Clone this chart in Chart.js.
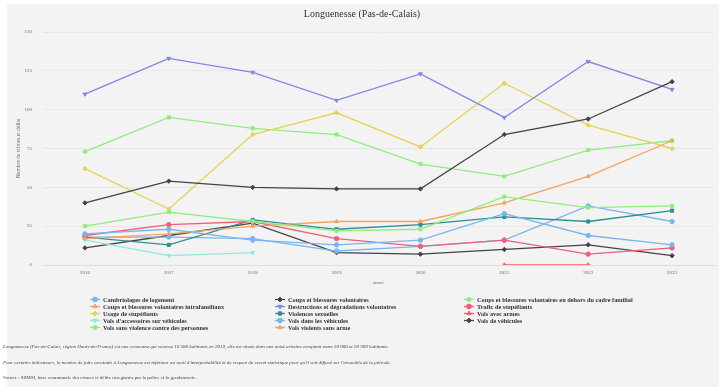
<!DOCTYPE html>
<html>
<head>
<meta charset="utf-8">
<script src="https://cdn.jsdelivr.net/npm/chart.js@4.4.0/dist/chart.umd.min.js"></script>
<style>
html, body { margin: 0; padding: 0; background: #fff; }
#page { position: relative; width: 719px; height: 387px; overflow: hidden; font-family: "Liberation Serif", "Times New Roman", serif; }
#box { position: absolute; left: 7px; top: 4px; right: 0; bottom: 0; background: #f3f3f3; }
#chart { position: absolute; left: 0; top: 0; }
.item { position: absolute; font-weight: bold; font-size: 6.3px; line-height: 7px; color: #333; white-space: nowrap; }
.item canvas { position: absolute; }
.note { position: absolute; left: 3px; font-size: 5px; line-height: 6px; color: #444; white-space: nowrap; }
.note.it { font-style: italic; }
</style>
</head>
<body>
<div id="page">
  <div id="box"></div>
  <canvas id="chart" width="719" height="387"></canvas>
  <div id="legend"></div>
  <div class="note it" style="top:344px">Longuenesse (Pas-de-Calais, région Hauts-de-France) est une commune qui recense 10 588 habitants en 2019, elle est située dans une unité urbaine comptant entre 50 000 et 99 999 habitants.</div>
  <div class="note it" style="top:360px">Pour certains indicateurs, le nombre de faits constatés à Longuenesse est inférieur au seuil d'interprétabilité et de respect du secret statistique pour qu'il soit diffusé sur l'ensemble de la période.</div>
  <div class="note" style="top:375px">Source : SSMSI, base communale des crimes et délits enregistrés par la police et la gendarmerie.</div>
</div>
<script>
// valeurs
const years = ['2016', '2017', '2018', '2019', '2020', '2021', '2022', '2023'];
const yTicks = [0, 25, 50, 75, 100, 125, 150];

const cambriolages = [20, 23, 16, 13, 16, 33, 19, 13];
const coupsBlessures = [40, 54, 50, 49, 49, 84, 94, 118];
const coupsHorsFamille = [25, 34, 28, 22, 23, 44, 37, 38];
const coupsIntrafamiliaux = [17, 20, 25, 28, 28, 40, 57, 80];
const destructions = [110, 133, 124, 106, 123, 95, 131, 113];
const trafic = [19, 26, 28, 17, 12, 16, 7, 11];
const usage = [62, 36, 84, 98, 76, 117, 90, 75];
const violencesSexuelles = [18, 13, 29, 23, 26, 31, 28, 35];
const volsArmes = [null, null, null, null, null, 0, 0, null];
const volsAccessoires = [16, 6, 8, null, null, null, null, null];
const volsDansVehicules = [18, 18, 17, 9, 12, 16, 38, 28];
const volsVehicules = [11, 19, 27, 8, 7, 10, 13, 6];
const volsSansViolence = [73, 95, 88, 84, 65, 57, 74, 80];
const volsViolentsSansArme = [null, null, null, null, null, null, null, null];

const seriesNames = [
	'Cambriolages de logement',
	'Coups et blessures volontaires',
	'Coups et blessures volontaires en dehors du cadre familial',
	'Coups et blessures volontaires intrafamiliaux',
	'Destructions et dégradations volontaires',
	'Trafic de stupéfiants',
	'Usage de stupéfiants',
	'Violences sexuelles',
	'Vols avec armes',
	"Vols d'accessoires sur véhicules",
	'Vols dans les véhicules',
	'Vols de véhicules',
	'Vols sans violence contre des personnes',
	'Vols violents sans arme'
];
const seriesValues = [cambriolages, coupsBlessures, coupsHorsFamille, coupsIntrafamiliaux,
	destructions, trafic, usage, violencesSexuelles, volsArmes, volsAccessoires,
	volsDansVehicules, volsVehicules, volsSansViolence, volsViolentsSansArme];

const palette = ['#7cb5ec', '#434348', '#90ed7d', '#f7a35c', '#8085e9', '#f15c80', '#e4d354', '#2b908f', '#f45b5b', '#91e8e1'];
const markers = [
	{ style: 'circle', rot: 0 },
	{ style: 'rectRot', rot: 0 },
	{ style: 'rect', rot: 0 },
	{ style: 'triangle', rot: 0 },
	{ style: 'triangle', rot: 180 }
];

const datasets = seriesNames.map((name, i) => {
	const color = palette[i % palette.length];
	const m = markers[i % markers.length];
	return {
		label: name,
		data: seriesValues[i],
		borderColor: color,
		backgroundColor: color,
		borderWidth: 1.3,
		pointStyle: m.style,
		rotation: m.rot,
		pointRadius: 2.2,
		pointBorderWidth: 1,
		tension: 0,
		spanGaps: false
	};
});

const serif = '"Liberation Serif", "Times New Roman", serif';

const chart = new Chart(document.getElementById('chart'), {
	type: 'line',
	data: { labels: years, datasets: datasets },
	options: {
		responsive: false,
		animation: false,
		layout: { padding: { left: 7, top: 4, right: 2, bottom: 100 } },
		plugins: {
			legend: { display: false },
			tooltip: { enabled: false },
			title: {
				display: true,
				text: 'Longuenesse (Pas-de-Calais)',
				color: '#333',
				font: { family: serif, size: 10, weight: 'normal' },
				padding: { top: 4, bottom: 12 }
			}
		},
		scales: {
			x: {
				offset: true,
				grid: { display: false, drawTicks: false },
				border: { display: true, color: '#d8dde6', width: 1 },
				ticks: { color: '#666', font: { family: serif, size: 5 }, padding: 5, maxRotation: 0 },
				title: { display: true, text: 'année', color: '#666', font: { family: serif, size: 5 }, padding: { top: 0, bottom: 1 } },
				afterFit: (scale) => { scale.height = 22; }
			},
			y: {
				min: 0,
				max: 150,
				afterBuildTicks: (scale) => { scale.ticks = yTicks.map(v => ({ value: v })); },
				grid: { color: '#e3e3e3', lineWidth: 0.8, drawTicks: false },
				border: { display: false },
				ticks: { color: '#666', font: { family: serif, size: 5 }, padding: 11 },
				title: { display: true, text: 'Nombre de crimes et délits', color: '#666', font: { family: serif, size: 5.5 }, padding: { top: 8, bottom: 0 } },
				afterFit: (scale) => { scale.width = 36; }
			}
		}
	}
});

// légende en trois colonnes
const colX = [95, 280, 469];
const rowY = [299, 306.2, 313.4, 320.6, 327.8];
const legendDiv = document.getElementById('legend');
datasets.forEach((ds, i) => {
	const col = i % 3;
	const row = Math.floor(i / 3);
	const item = document.createElement('div');
	item.className = 'item';
	item.style.left = (colX[col] + 8) + 'px';
	item.style.top = (rowY[row] - 3.5) + 'px';
	item.textContent = ds.label;

	const icon = document.createElement('canvas');
	icon.width = 12;
	icon.height = 7;
	icon.style.left = '-14px';
	icon.style.top = '0px';
	const ctx = icon.getContext('2d');
	ctx.strokeStyle = ds.borderColor;
	ctx.fillStyle = ds.backgroundColor;
	ctx.lineWidth = 1.3;
	ctx.beginPath();
	ctx.moveTo(1, 3.5);
	ctx.lineTo(11, 3.5);
	ctx.stroke();
	ctx.lineWidth = 1;
	Chart.helpers.drawPoint(ctx, { pointStyle: ds.pointStyle, radius: 2.4, rotation: ds.rotation, borderWidth: 1 }, 6, 3.5);
	item.appendChild(icon);
	legendDiv.appendChild(item);
});
</script>
</body>
</html>
